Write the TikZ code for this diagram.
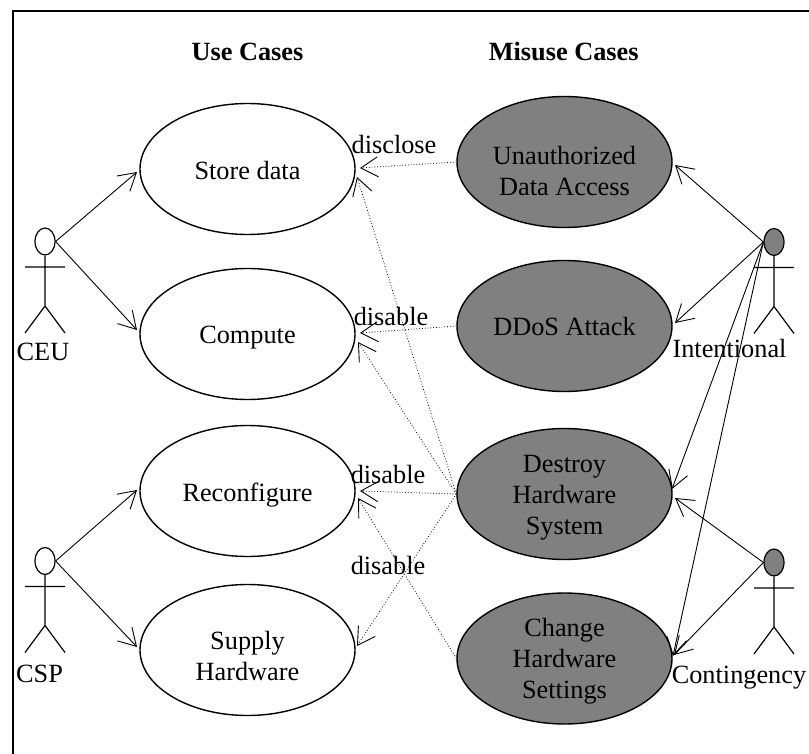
\documentclass[tikz,border=0pt]{standalone}
\usepackage{fontspec}
\setmainfont{Liberation Serif}
\usetikzlibrary{shapes.geometric,arrows.meta}
\definecolor{misgray}{gray}{0.5}
\newcommand\topgap[1]{\rule{0pt}{#1pt}}
\tikzset{
  uc/.style={draw,ellipse,line width=1.4pt,minimum width=215pt,minimum height=131pt,inner sep=0pt,align=center,font=\fontsize{26.3}{30.7}\selectfont},
  muc/.style={uc,fill=misgray},
  head/.style={draw,ellipse,line width=1.2pt,minimum width=20pt,minimum height=27pt,inner sep=0pt},
  limb/.style={line width=1.2pt},
  lab/.style={inner sep=0pt,font=\fontsize{26.3}{30.7}\selectfont},
  title/.style={inner sep=0pt,font=\bfseries\fontsize{26.3}{30.7}\selectfont},
  assoc/.style={line width=0.9pt,-{Straight Barb[length=17pt,width=20pt,line width=0.9pt]}},
  threat/.style={line width=0.8pt,dotted,-{Straight Barb[length=17pt,width=20pt,line width=0.9pt]}},
}
\begin{document}
\begin{tikzpicture}[x=1pt,y=-1pt]
\useasboundingbox (0,0) rectangle (809,754);
\draw[line width=2pt] (12.5,800) -- (12.5,11.5) -- (860,11.5);
\node[title] at (247.5,52) {Use Cases};
\node[title] at (563.7,52) {Misuse Cases};
\node[uc] (store) at (247.5,169) {\topgap{22}Store data};
\node[uc] (compute) at (247.5,334) {\topgap{24.8}Compute};
\node[uc] (reconf) at (247.5,491) {\topgap{26}Reconfigure};
\node[uc] (supply) at (247.5,650) {\topgap{30}Supply\\Hardware};
\node[muc] (unauth) at (564.5,162) {\topgap{36}Unauthorized\\Data Access};
\node[muc] (ddos) at (564.5,326) {\topgap{20}DDoS Attack};
\node[muc] (destroy) at (564.5,494) {\topgap{24.4}Destroy\\Hardware\\System};
\node[muc] (change) at (564.5,658.5) {\topgap{24}Change\\Hardware\\Settings};
% actors
\node[head] (ceu) at (45,241.5) {};
\node[head] (csp) at (45,561) {};
\node[head,fill=misgray] (intent) at (774,242) {};
\node[head,fill=misgray] (cont) at (774,562.5) {};
\foreach \a/\x/\y in {ceu/45/241.5,csp/45/561,intent/774/242,cont/774/562.5}{
  \draw[limb] (\a.south) -- (\x,\y+64.5) (\x-20,\y+25.5) -- (\x+20,\y+25.5)
    (\x-20,\y+91.5) -- (\x,\y+64.5) -- (\x+20,\y+91.5);
}
\node[lab] at (43,352) {CEU};
\node[lab] at (39.5,674) {CSP};
\node[lab] at (729.5,349) {Intentional};
\node[lab] at (739,678) {Contingency};
\coordinate (a1) at (137,172);
\coordinate (a2) at (137,330);
\coordinate (a3) at (137,490);
\coordinate (a4) at (137,647);
\draw[assoc] (ceu.east) -- (a1);
\draw[assoc] (ceu.east) -- (a2);
\draw[assoc] (csp.east) -- (a3);
\draw[assoc] (csp.east) -- (a4);
\coordinate (t1) at (360,168);
\coordinate (t2) at (360,333);
\coordinate (t3) at (360,491);
\coordinate (t4) at (357,177);
\coordinate (t5) at (358,342);
\coordinate (t6) at (358,498);
\coordinate (t7) at (357,646);
\draw[threat] (unauth.west) -- (t1);
\draw[threat] (ddos.west) -- (t2);
\draw[threat] (destroy.west) -- (t3);
\draw[threat] (destroy.west) -- (t4);
\draw[threat] (destroy.west) -- (t5);
\draw[threat] (destroy.west) -- (t7);
\draw[threat] (change.west) -- (t6);
\node[lab] at (394,145) {disclose};
\node[lab] at (391,317) {disable};
\node[lab] at (388,475) {disable};
\node[lab] at (388,566) {disable};
\coordinate (e1) at (675,165);
\coordinate (e2) at (675,323);
\coordinate (e3) at (672,489);
\coordinate (e4) at (673,656);
\coordinate (e5) at (675,498);
\coordinate (e6) at (674,655);
\draw[assoc] (intent.west) -- (e1);
\draw[assoc] (intent.west) -- (e2);
\draw[assoc] (intent.west) -- (e3);
\draw[assoc] (intent.west) -- (e4);
\draw[assoc] (cont.west) -- (e5);
\draw[assoc] (cont.west) -- (e6);
\end{tikzpicture}
\end{document}
